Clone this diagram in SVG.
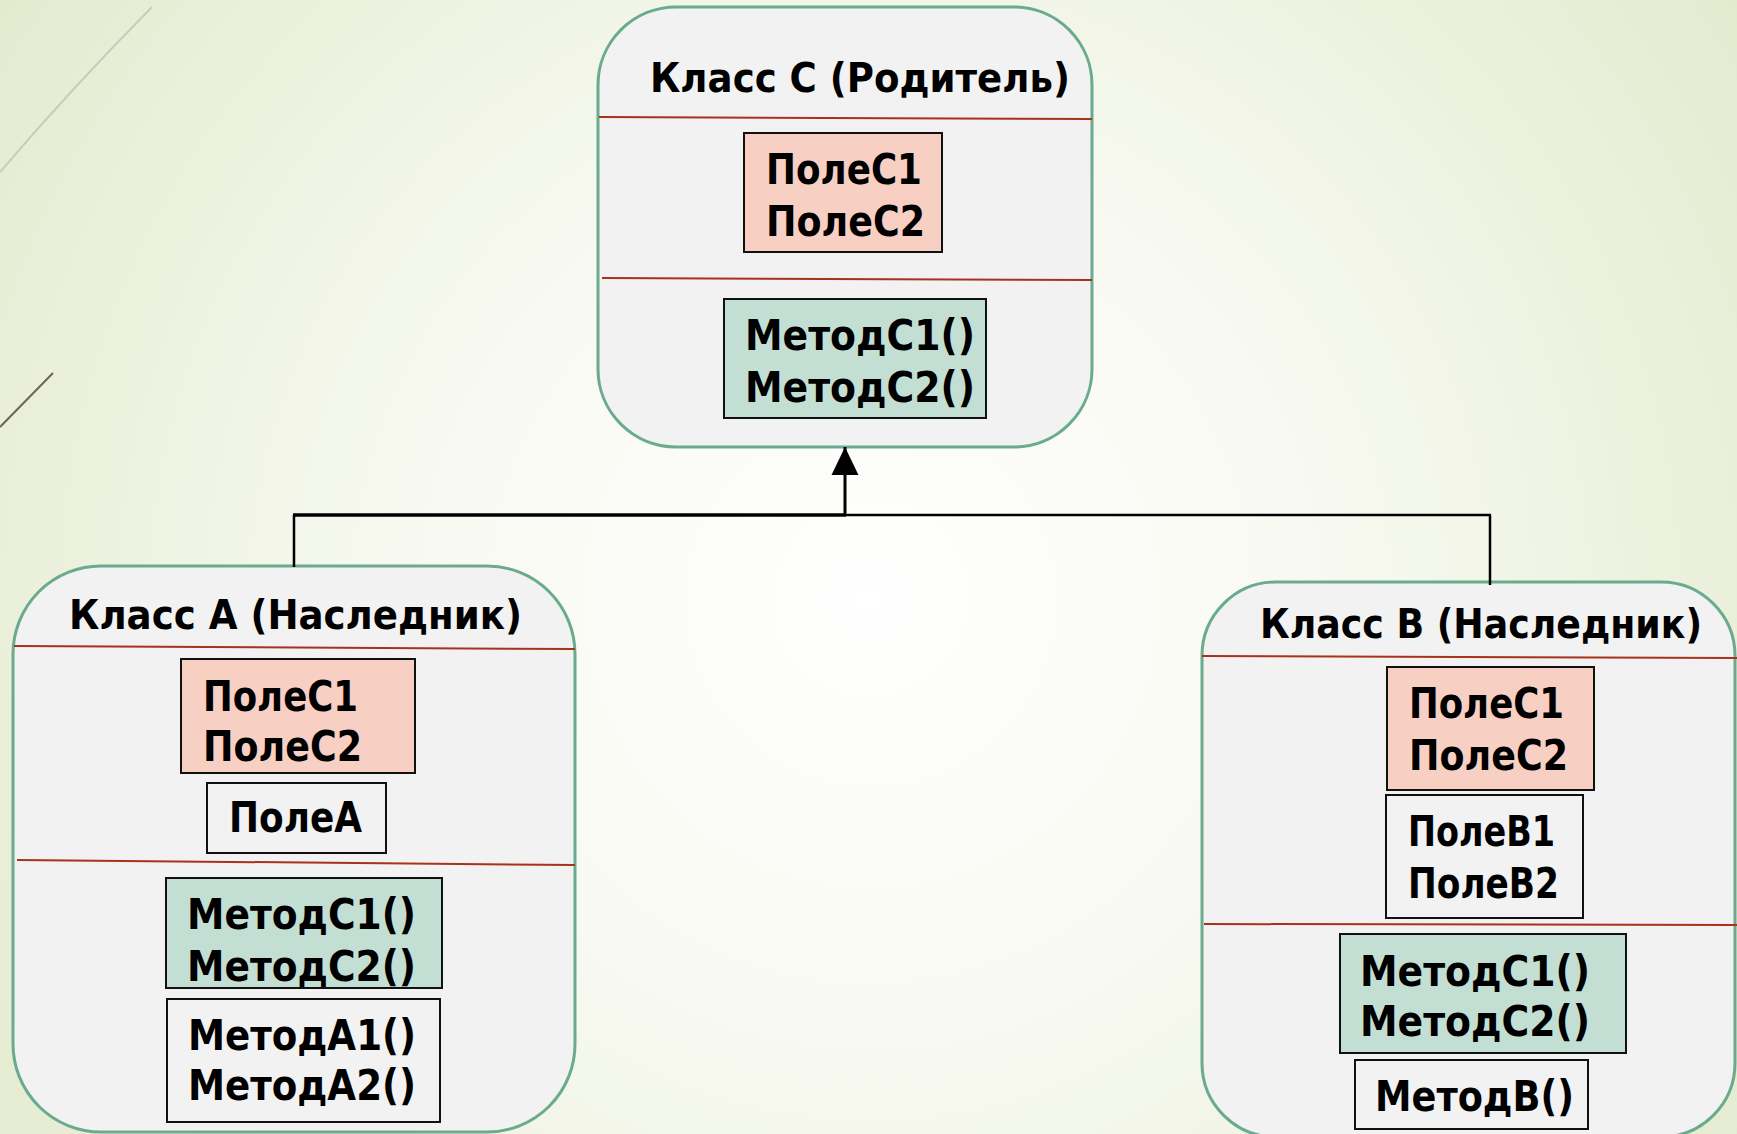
<svg xmlns="http://www.w3.org/2000/svg" width="1737" height="1134" viewBox="0 0 1737 1134">
<defs>
<radialGradient id="bg" gradientUnits="userSpaceOnUse" cx="870" cy="600" r="1050">
<stop offset="0" stop-color="#ffffff"/>
<stop offset="0.45" stop-color="#f7f9f0"/>
<stop offset="1" stop-color="#e3ebcf"/>
</radialGradient>
<marker id="arr" markerUnits="userSpaceOnUse" markerWidth="28" markerHeight="28" refX="27" refY="13" orient="auto" viewBox="0 0 27 26">
<path d="M0,0 L27,13 L0,26 Z" fill="#000"/>
</marker>
<style>
.cls{fill:#f2f2f2;stroke:#6aab8e;stroke-width:3}
.div{stroke:#a8321a;stroke-width:2;fill:none}
.fld{fill:#f8cfc3;stroke:#111;stroke-width:2}
.mth{fill:#c3dfd3;stroke:#111;stroke-width:2}
.own{fill:none;stroke:#111;stroke-width:2}
text{font-family:"DejaVu Sans","Liberation Sans",sans-serif;font-weight:bold;fill:#000}
.t{font-size:40px}
.f{font-size:42px}
.con{fill:none;stroke:#000}
</style>
</defs>
<rect x="0" y="0" width="1737" height="1134" fill="url(#bg)"/>
<path d="M152,7 Q70,90 0,172" fill="none" stroke="#c9ccba" stroke-width="2"/>
<path d="M53,373 L0,427" fill="none" stroke="#6e6650" stroke-width="2"/>

<g id="classC">
<rect class="cls" x="598" y="7" width="494" height="440" rx="78" ry="78"/>
<text class="t" x="650" y="92" textLength="420" lengthAdjust="spacingAndGlyphs">Класс С (Родитель)</text>
<line class="div" x1="599" y1="117" x2="1092" y2="119"/>
<rect class="fld" x="744" y="133" width="198" height="119"/>
<text class="f" x="766" y="184" textLength="156" lengthAdjust="spacingAndGlyphs">ПолеС1</text>
<text class="f" x="766" y="236" textLength="159" lengthAdjust="spacingAndGlyphs">ПолеС2</text>
<line class="div" x1="602" y1="278" x2="1092" y2="280"/>
<rect class="mth" x="724" y="299" width="262" height="119"/>
<text class="f" x="745" y="350" textLength="230" lengthAdjust="spacingAndGlyphs">МетодС1()</text>
<text class="f" x="745" y="402" textLength="230" lengthAdjust="spacingAndGlyphs">МетодС2()</text>
</g>

<g id="classA">
<rect class="cls" x="13" y="566" width="562" height="566" rx="88" ry="88"/>
<text class="t" x="69" y="629" textLength="453" lengthAdjust="spacingAndGlyphs">Класс А (Наследник)</text>
<line class="div" x1="14" y1="646" x2="575" y2="649"/>
<rect class="fld" x="181" y="659" width="234" height="114"/>
<text class="f" x="203" y="711" textLength="155" lengthAdjust="spacingAndGlyphs">ПолеС1</text>
<text class="f" x="203" y="761" textLength="159" lengthAdjust="spacingAndGlyphs">ПолеС2</text>
<rect class="own" x="207" y="783" width="179" height="70"/>
<text class="f" x="229" y="832" textLength="133" lengthAdjust="spacingAndGlyphs">ПолеА</text>
<line class="div" x1="17" y1="860" x2="575" y2="865"/>
<rect class="mth" x="166" y="878" width="276" height="110"/>
<text class="f" x="187" y="929" textLength="229" lengthAdjust="spacingAndGlyphs">МетодС1()</text>
<text class="f" x="187" y="981" textLength="229" lengthAdjust="spacingAndGlyphs">МетодС2()</text>
<rect class="own" x="167" y="999" width="273" height="123"/>
<text class="f" x="188" y="1050" textLength="228" lengthAdjust="spacingAndGlyphs">МетодА1()</text>
<text class="f" x="188" y="1100" textLength="228" lengthAdjust="spacingAndGlyphs">МетодА2()</text>
</g>

<g id="classB">
<rect class="cls" x="1202" y="582" width="533" height="555" rx="74" ry="74"/>
<text class="t" x="1260" y="638" textLength="442" lengthAdjust="spacingAndGlyphs">Класс В (Наследник)</text>
<line class="div" x1="1202" y1="656" x2="1737" y2="658"/>
<rect class="fld" x="1387" y="667" width="207" height="123"/>
<text class="f" x="1409" y="718" textLength="155" lengthAdjust="spacingAndGlyphs">ПолеС1</text>
<text class="f" x="1409" y="770" textLength="159" lengthAdjust="spacingAndGlyphs">ПолеС2</text>
<rect class="own" x="1386" y="795" width="197" height="123"/>
<text class="f" x="1408" y="846" textLength="147" lengthAdjust="spacingAndGlyphs">ПолеВ1</text>
<text class="f" x="1408" y="898" textLength="151" lengthAdjust="spacingAndGlyphs">ПолеВ2</text>
<line class="div" x1="1204" y1="924" x2="1737" y2="925"/>
<rect class="mth" x="1340" y="934" width="286" height="119"/>
<text class="f" x="1360" y="986" textLength="230" lengthAdjust="spacingAndGlyphs">МетодС1()</text>
<text class="f" x="1360" y="1036" textLength="230" lengthAdjust="spacingAndGlyphs">МетодС2()</text>
<rect class="own" x="1355" y="1060" width="233" height="69"/>
<text class="f" x="1375" y="1111" textLength="199" lengthAdjust="spacingAndGlyphs">МетодВ()</text>
</g>

<g id="connectors">
<path class="con" d="M294,567 V515" stroke-width="2.5"/>
<path class="con" d="M293,515 H846" stroke-width="3.5"/>
<path class="con" d="M845,515 H1491" stroke-width="2.5"/>
<path class="con" d="M1490,515 V585" stroke-width="2.5"/>
<path class="con" d="M845,516 V447" stroke-width="3" marker-end="url(#arr)"/>
</g>
</svg>
